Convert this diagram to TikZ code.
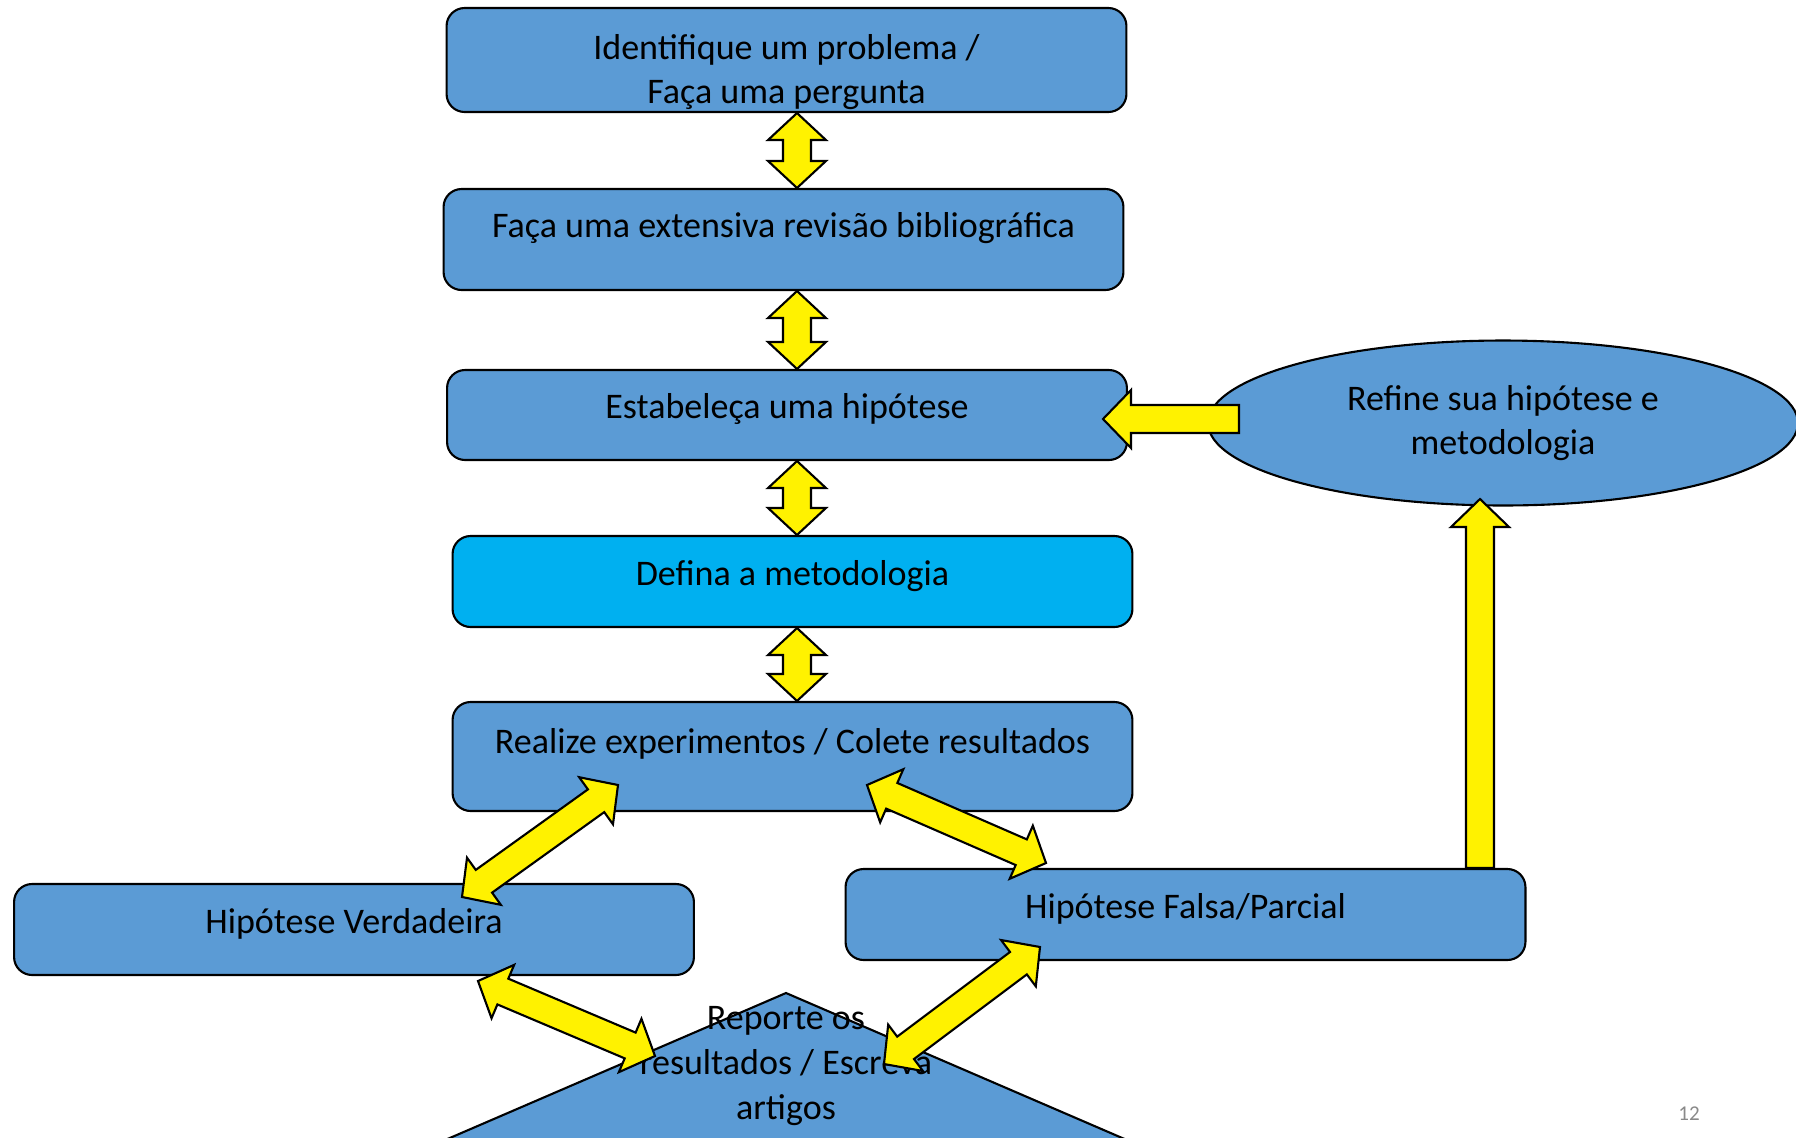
\documentclass[tikz,border=0pt]{standalone}
\usepackage{fontspec}
\setmainfont{Carlito}
\usetikzlibrary{calc,shapes.geometric}
\definecolor{stepblue}{RGB}{91,155,213}
\definecolor{stepcyan}{RGB}{0,176,240}
\definecolor{pagegray}{RGB}{137,137,137}
\tikzset{
  stepbox/.style={draw=black, line width=1.2pt, fill=stepblue, rounded corners=0.36cm,
    minimum width=13.6cm, minimum height=1.82cm, align=center, inner sep=4pt,
    font=\fontsize{20.5}{25}\selectfont},
  oneline/.style={text height=15pt, text depth=11pt},
  refine-node/.style={draw=black, line width=1.2pt, fill=stepblue, ellipse,
    minimum width=11.8cm, minimum height=3.3cm, inner sep=0pt, align=center,
    font=\fontsize{20.5}{25}\selectfont},
  report-shape/.style={draw=black, line width=1.2pt, fill=stepblue},
  report-text/.style={align=center, inner sep=0pt, font=\fontsize{20.5}{25.5}\selectfont},
  page-number/.style={font=\fontsize{12}{14}\selectfont, text=pagegray},
  fatdouble/.style={draw=black, line width=1.2pt, fill=yellow, line join=miter,
    to path={let \p1=($(\tikztotarget)-(\tikztostart)$), \n1={atan2(\y1,\x1)} in
      (\tikztostart)
      -- ($(\tikztostart)+(\n1:0.54cm)+(\n1+90:0.58cm)$)
      -- ($(\tikztostart)+(\n1:0.54cm)+(\n1+90:0.28cm)$)
      -- ($(\tikztotarget)+(\n1:-0.54cm)+(\n1+90:0.28cm)$)
      -- ($(\tikztotarget)+(\n1:-0.54cm)+(\n1+90:0.58cm)$)
      -- (\tikztotarget)
      -- ($(\tikztotarget)+(\n1:-0.54cm)+(\n1-90:0.58cm)$)
      -- ($(\tikztotarget)+(\n1:-0.54cm)+(\n1-90:0.28cm)$)
      -- ($(\tikztostart)+(\n1:0.54cm)+(\n1-90:0.28cm)$)
      -- ($(\tikztostart)+(\n1:0.54cm)+(\n1-90:0.58cm)$)
      -- cycle}},
  fatsingle/.style={draw=black, line width=1.2pt, fill=yellow, line join=miter,
    to path={let \p1=($(\tikztotarget)-(\tikztostart)$), \n1={atan2(\y1,\x1)} in
      ($(\tikztostart)+(\n1+90:0.28cm)$)
      -- ($(\tikztotarget)+(\n1:-0.56cm)+(\n1+90:0.28cm)$)
      -- ($(\tikztotarget)+(\n1:-0.56cm)+(\n1+90:0.58cm)$)
      -- (\tikztotarget)
      -- ($(\tikztotarget)+(\n1:-0.56cm)+(\n1-90:0.58cm)$)
      -- ($(\tikztotarget)+(\n1:-0.56cm)+(\n1-90:0.28cm)$)
      -- ($(\tikztostart)+(\n1-90:0.28cm)$)
      -- cycle}}
}

\begin{document}
\begin{tikzpicture}[x=0.02cm, y=-0.02cm]
\useasboundingbox (0,0) rectangle (1796,1137);
% last step, cut by the lower edge
\draw[report-shape] (786,993) -- (306,1200) -- (1266,1200) -- cycle;
\node[report-text] (report) at (786,1066) {Reporte os\\resultados / Escreva\\artigos};
% main column
\node[stepbox, minimum height=2.08cm, inner ysep=0pt, text height=52.5pt] (identify) at (786.5,60)
  {Identifique um problema /\\Faça uma pergunta};
\node[stepbox, oneline, minimum height=2.02cm, text depth=17pt] (review) at (783.5,239.5)
  {Faça uma extensiva revisão bibliográfica};
\node[stepbox, oneline, minimum height=1.8cm] (hypothesis) at (787,415)
  {Estabeleça uma hipótese};
\node[stepbox, oneline, fill=stepcyan] (method) at (792.5,581.5)
  {Defina a metodologia};
\node[stepbox, oneline, minimum height=2.18cm, text depth=19pt] (experiment) at (792.5,756.5)
  {Realize experimentos / Colete resultados};
% outcomes
\node[stepbox, oneline] (truehyp) at (354,929.5) {Hipótese Verdadeira};
\node[stepbox, oneline] (falsehyp) at (1185.5,914.5) {Hipótese Falsa/Parcial};
\node[refine-node] (refine) at (1503,423) {Refine sua hipótese e\\metodologia};
\node[page-number] (page) at (1689,1114) {12};
% arrow ends
\coordinate (axis) at (797,0);
\coordinate (upx) at (1480,0);
\coordinate (expleft) at (618,785);
\coordinate (trueup) at (462,897);
\coordinate (expright) at (867,785);
\coordinate (falseleft) at (1046,863);
\coordinate (truedown) at (478,981);
\coordinate (repleft) at (655,1056);
\coordinate (falsedown) at (1040,947);
\coordinate (repright) at (884,1064);
\coordinate (refinetail) at (1239,419);
\coordinate (hypright) at (1103,419);
\coordinate (refinebottom) at (1480,499);
% connectors
\draw[fatdouble] (identify.south -| axis) to (review.north -| axis);
\draw[fatdouble] (review.south -| axis) to (hypothesis.north -| axis);
\draw[fatdouble] (hypothesis.south -| axis) to (method.north -| axis);
\draw[fatdouble] (method.south -| axis) to (experiment.north -| axis);
\draw[fatdouble] (expleft) to (trueup);
\draw[fatdouble] (expright) to (falseleft);
\draw[fatdouble] (truedown) to (repleft);
\draw[fatdouble] (falsedown) to (repright);
\draw[fatsingle] (refinetail) to (hypright);
\draw[fatsingle] (falsehyp.north -| upx) to (refinebottom);
\end{tikzpicture}
\end{document}
